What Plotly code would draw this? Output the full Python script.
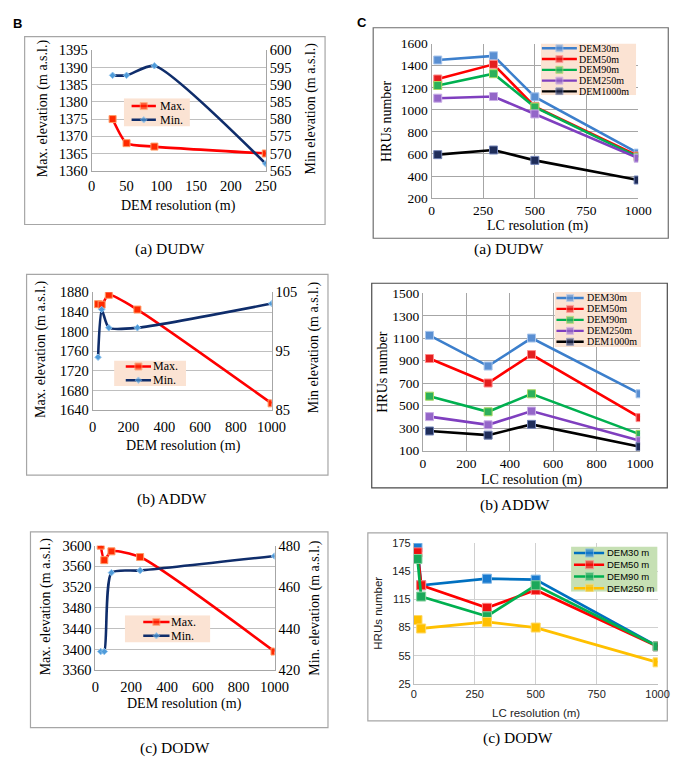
import plotly.graph_objects as go

W, H = 685, 761

# ---------------- data ----------------
# Panel B: max / min elevation vs DEM resolution
dudw_dem_res = [30, 50, 90, 250]
dudw_max_elev = [1375, 1368, 1367, 1365]
dudw_min_elev = [592.7, 592.7, 595.5, 567]

addw_dem_res = [30, 50, 90, 250, 1000]
addw_max_elev = [1856, 1855, 1875, 1845, 1654]
addw_min_elev = [94.0, 102.1, 99.0, 99.0, 103.1]

dodw_dem_res = [30, 50, 90, 250, 1000]
dodw_max_elev = [3600, 3572, 3589, 3578, 3396]
dodw_min_elev = [429, 429, 467, 468, 475]

# Panel C: HRUs number vs LC resolution
dudw_lc_res = [30, 300, 500, 1000]
dudw_dem30 = [1452, 1490, 1118, 608]
dudw_dem50 = [1280, 1413, 1030, 582]
dudw_dem90 = [1221, 1328, 1025, 572]
dudw_dem250 = [1106, 1121, 963, 562]
dudw_dem1000 = [594, 636, 542, 364]

addw_lc_res = [30, 300, 500, 1000]
addw_dem30 = [1126, 853, 1102, 606]
addw_dem50 = [920, 702, 955, 394]
addw_dem90 = [585, 446, 606, 245]
addw_dem250 = [403, 330, 452, 188]
addw_dem1000 = [275, 238, 334, 135]

dodw_lc_res = [15, 30, 300, 500, 1000]
dodw_dem30 = [170, 130, 137, 136, 65]
dodw_dem50 = [165, 130, 106, 125, 65]
dodw_dem90 = [158, 118, 97, 130, 65]
dodw_dem250 = [93, 84, 91, 85, 48]

names_c_ab = ["DEM30m", "DEM50m", "DEM90m", "DEM250m", "DEM1000m"]
names_c_c = ["DEM30 m", "DEM50 m", "DEM90 m", "DEM250 m"]
names_b = ["Max.", "Min."]

# ---------------- styles ----------------
SERIF = "Liberation Serif"
SANS = "Liberation Sans"

def xdom(a, b):
    return [a / W, b / W]

def ydom(top, bottom):
    return [1 - bottom / H, 1 - top / H]

style_max = dict(color="#FF0000", msym="square", msize=7, mcolor="#FF2A00", mline="#FF9A66")
style_min = dict(color="#0F2D6B", msym="diamond", msize=5, mcolor="#4F9BD9", mline="#8FC3EE")

style_c = [
    dict(color="#3C7FCC", msym="square", msize=8, mcolor="#5A8FD2", mline="#A9C6EC"),
    dict(color="#FF0000", msym="square", msize=8, mcolor="#E41E1E", mline="#FF8A8A"),
    dict(color="#00B050", msym="square", msize=8, mcolor="#2DB05A", mline="#A8D860"),
    dict(color="#7F3FBF", msym="square", msize=8, mcolor="#9466C8", mline="#C9ADE6"),
    dict(color="#000000", msym="square", msize=8, mcolor="#1F2D5A", mline="#7283B5"),
]
style_cc = [
    dict(color="#0070C0", msym="square", msize=9, mcolor="#1A7BD0", mline="#7FB6E6"),
    dict(color="#FF0000", msym="square", msize=9, mcolor="#F01010", mline="#FF8080"),
    dict(color="#00B050", msym="square", msize=9, mcolor="#1BA85A", mline="#86D19E"),
    dict(color="#FFC000", msym="square", msize=9, mcolor="#FFC000", mline="#FFD966"),
]

fig = go.Figure()

def add_series(x, y, xa, ya, st, shape="linear", width=2.6, smoothing=0.6):
    fig.add_trace(go.Scatter(
        x=x, y=y, xaxis=xa, yaxis=ya, mode="lines+markers",
        line=dict(color=st["color"], width=width, shape=shape, smoothing=smoothing),
        marker=dict(symbol=st["msym"], size=st["msize"], color=st["mcolor"],
                    line=dict(color=st["mline"], width=1)),
        showlegend=False, hoverinfo="skip"))

# Panel B traces
add_series(dudw_dem_res, dudw_max_elev, "x", "y", style_max, "spline")
add_series(dudw_dem_res, dudw_min_elev, "x", "y2", style_min, "spline")
add_series(addw_dem_res, addw_max_elev, "x2", "y3", style_max, "spline")
add_series(addw_dem_res, addw_min_elev, "x2", "y4", style_min, "spline")
add_series(dodw_dem_res, dodw_max_elev, "x3", "y5", style_max, "spline")
add_series(dodw_dem_res, dodw_min_elev, "x3", "y6", style_min, "spline")

# Panel C traces
for ys, st in zip([dudw_dem30, dudw_dem50, dudw_dem90, dudw_dem250, dudw_dem1000], style_c):
    add_series(dudw_lc_res, ys, "x4", "y7", st)
for ys, st in zip([addw_dem30, addw_dem50, addw_dem90, addw_dem250, addw_dem1000], style_c):
    add_series(addw_lc_res, ys, "x5", "y8", st)
for ys, st in zip([dodw_dem30, dodw_dem50, dodw_dem90, dodw_dem250], style_cc):
    add_series(dodw_lc_res, ys, "x6", "y9", st, width=2.8)

layout = dict(
    width=W, height=H, margin=dict(l=0, r=0, t=0, b=0),
    paper_bgcolor="white", plot_bgcolor="rgba(0,0,0,0)", showlegend=False,
)

def xaxis(dom, rng, dtick, font, grid=False, gridcolor="#BFBFBF", linecolor="#A6A6A6", anchor="y",
          standoff=0):
    return dict(domain=xdom(*dom), range=rng, dtick=dtick, tick0=0, showgrid=grid,
                gridcolor=gridcolor, gridwidth=1, showline=True, linecolor=linecolor, linewidth=1,
                ticks="", zeroline=False, tickfont=font, anchor=anchor, fixedrange=True,
                ticklabelstandoff=standoff)

def yaxis(dom, rng, dtick, font, grid=True, gridcolor="#BFBFBF", linecolor="#A6A6A6", anchor="x",
          side="left", overlaying=None):
    d = dict(domain=ydom(*dom), range=rng, dtick=dtick, tick0=rng[0], showgrid=grid,
             gridcolor=gridcolor, gridwidth=1, showline=True, linecolor=linecolor, linewidth=1,
             ticks="", zeroline=False, tickfont=font, anchor=anchor, side=side, fixedrange=True)
    if overlaying:
        d["overlaying"] = overlaying
        d.pop("domain")
    return d

fsb = dict(family=SERIF, size=14.5, color="black")
fsc = dict(family=SERIF, size=13.5, color="black")
fsans = dict(family=SANS, size=11, color="#222222")

# Panel B axes
layout["xaxis"] = xaxis((82, 261), [0, 250], 50, fsb, anchor="y", standoff=2)
layout["yaxis"] = yaxis((35, 158), [1360, 1395], 5, fsb, anchor="x")
layout["yaxis2"] = yaxis((35, 158), [565, 600], 5, fsb, grid=False, anchor="x", side="right", overlaying="y")

layout["xaxis2"] = xaxis((83, 267), [0, 1000], 200, fsb, anchor="y3", standoff=3)
layout["yaxis3"] = yaxis((282.3, 402.7), [1640, 1880], 40, fsb, anchor="x2")
layout["yaxis4"] = yaxis((282.3, 402.7), [85, 105], 10, fsb, grid=False, anchor="x2", side="right", overlaying="y3")

layout["xaxis3"] = xaxis((85.7, 270), [0, 1000], 200, fsb, anchor="y5", standoff=3)
layout["yaxis5"] = yaxis((541, 668.3), [3360, 3600], 40, fsb, anchor="x3")
layout["yaxis6"] = yaxis((541, 668.3), [420, 480], 20, fsb, grid=False, anchor="x3", side="right", overlaying="y5")

# Panel C axes
gc = "#A6A6A6"
layout["xaxis4"] = xaxis((431.5, 644), [0, 1000], 250, fsc, grid=True, gridcolor=gc, linecolor=gc, anchor="y7")
layout["yaxis7"] = yaxis((28.3, 186), [200, 1600], 200, fsc, gridcolor=gc, linecolor=gc, anchor="x4")
layout["xaxis5"] = xaxis((422.7, 646), [0, 1000], 200, fsc, grid=True, gridcolor=gc, linecolor=gc, anchor="y8")
layout["yaxis8"] = yaxis((283.3, 444), [100, 1500], 200, fsc, gridcolor=gc, linecolor=gc, anchor="x5")
gcc = "#D0D0D0"
layout["xaxis6"] = xaxis((413.3, 664), [0, 1000], 250, fsans, grid=True, gridcolor=gcc, linecolor="#BFBFBF", anchor="y9")
layout["yaxis9"] = yaxis((538.3, 682.3), [25, 175], 30, fsans, gridcolor=gcc, linecolor="#BFBFBF", anchor="x6")

shapes = []
annotations = []

# ---------------- custom legends (separate small axes in pixel units) ----------------
def add_legend(idx, box, line_x0, marker_x, line_x1, text_x, row0, pitch, names, styles, font, bg,
               msize=None):
    L, T, R, B = box
    layout[f"xaxis{idx}"] = dict(domain=xdom(L, R), range=[L, R], visible=False,
                                  anchor=f"y{idx}", fixedrange=True)
    layout[f"yaxis{idx}"] = dict(domain=ydom(T, B), range=[B, T], visible=False,
                                  anchor=f"x{idx}", fixedrange=True)
    shapes.append(dict(type="rect", xref=f"x{idx}", yref=f"y{idx}", x0=L, x1=R, y0=T, y1=B,
                       fillcolor=bg, line=dict(width=0), layer="below"))
    for i, (nm, st) in enumerate(zip(names, styles)):
        yy = row0 + i * pitch
        ms = msize if msize else st["msize"]
        fig.add_trace(go.Scatter(
            x=[line_x0, marker_x, line_x1], y=[yy, yy, yy], xaxis=f"x{idx}", yaxis=f"y{idx}",
            mode="lines+markers", line=dict(color=st["color"], width=2.4),
            marker=dict(symbol=st["msym"], size=[0, ms, 0], color=st["mcolor"],
                        line=dict(color=st["mline"], width=[0, 1, 0])),
            showlegend=False, hoverinfo="skip"))
        annotations.append(dict(x=text_x, y=yy, xref=f"x{idx}", yref=f"y{idx}", text=nm,
                                showarrow=False, xanchor="left", yanchor="middle", font=font))

peach = "#FBE3D3"
fl = dict(family=SERIF, size=12, color="black")
flc = dict(family=SERIF, size=10, color="black")
add_legend(10, (115, 84, 183, 113), 123, 135.5, 148, 150, 92, 14, names_b, [style_max, style_min], fl, peach)
add_legend(11, (105, 352, 179, 378), 117, 130, 143, 143, 358, 14, names_b, [style_max, style_min], fl, peach)
add_legend(12, (116, 612, 204, 640), 135, 148.5, 162, 161, 619, 14, names_b, [style_max, style_min], fl, peach)
add_legend(13, (544, 28, 642, 81), 545, 563, 581, 581, 33, 11, names_c_ab, style_c, flc, peach, msize=7)
add_legend(14, (558, 282, 647, 338), 560, 574, 588, 589, 288, 11.2, names_c_ab, style_c, flc, peach, msize=7)
add_legend(15, (575, 542, 664, 588), 578, 594, 609, 610, 548.5, 12, names_c_c, style_cc,
           dict(family=SANS, size=9.5, color="black"), "#C6E0B4", msize=8)

# ---------------- outer boxes ----------------
def box(L, T, R, B, color):
    shapes.append(dict(type="rect", xref="paper", yref="paper", x0=L / W, x1=R / W,
                       y0=1 - B / H, y1=1 - T / H, line=dict(color=color, width=1.2),
                       fillcolor="rgba(0,0,0,0)", layer="below"))

box(13, 21, 322, 213, "#A6A6A6")
box(15, 264, 325, 469, "#A6A6A6")
box(19, 527, 325, 727, "#A6A6A6")
box(371.5, 12, 675, 227, "#6E6E6E")
box(370, 273, 674, 482, "#4A4A4A")
box(366, 528, 674, 720, "#A6A6A6")

# ---------------- text ----------------
def text(x, y, s, font, angle=0):
    annotations.append(dict(x=x / W, y=1 - y / H, xref="paper", yref="paper", text=s,
                            showarrow=False, textangle=angle, xanchor="center", yanchor="middle",
                            font=font))

ft = dict(family=SERIF, size=14, color="black")
ftc = dict(family=SANS, size=11.5, color="#222222")
fcap = dict(family=SERIF, size=15.5, color="black")
fpanel = dict(family=SANS, size=13, color="black")

text(6, 8, "<b>B</b>", fpanel)
text(360, 7, "<b>C</b>", fpanel)

# B (a)
text(32, 94, "Max. elevation (m a.s.l.)", ft, -90)
text(308, 94, "Min elevation (m a.s.l.)", ft, -90)
text(171, 194, "DEM resolution (m)", ft)
text(163, 238, "(a) DUDW", fcap)
# B (b)
text(30, 340, "Max. elevation (m a.s.l.)", ft, -90)
text(311, 338, "Min elevation (m a.s.l.)", ft, -90)
text(176, 439, "DEM resolution (m)", ft)
text(165, 493, "(b) ADDW", fcap)
# B (c)
text(35, 603, "Max. elevation (m a.s.l.)", ft, -90)
text(312, 605, "Min. elevation (m a.s.l.)", ft, -90)
text(177, 703, "DEM resolution (m)", ft)
text(168, 748, "(c) DODW", fcap)
# C (a)
text(385, 107, "HRUs number", ft, -90)
text(540, 215, "LC resolution (m)", ft)
text(511, 238, "(a) DUDW", fcap)
# C (b)
text(381, 363, "HRUs number", ft, -90)
text(534, 474, "LC resolution (m)", ft)
text(517, 500, "(b) ADDW", fcap)
# C (c)
text(377, 610, "HRUs number", ftc, -90)
text(539, 712, "LC resolution (m)", ftc)
text(520, 738, "(c) DODW", fcap)

layout["shapes"] = shapes
layout["annotations"] = annotations
fig.update_layout(**layout)
fig.write_html("out.html")
